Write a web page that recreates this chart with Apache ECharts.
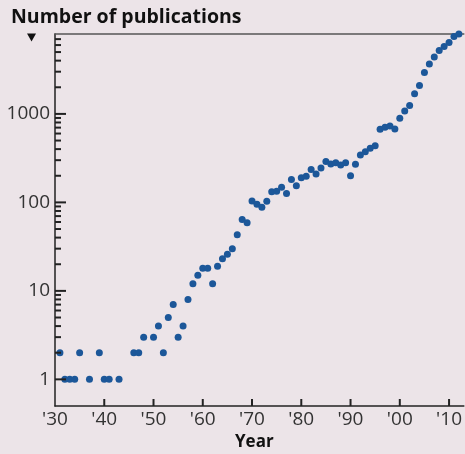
<!DOCTYPE html>
<html>
<head>
<meta charset="utf-8">
<script src="https://cdn.jsdelivr.net/npm/echarts@6/dist/echarts.min.js"></script>
<style>
  html, body { margin: 0; padding: 0; background: #ece4e8; }
  #chart { width: 465px; height: 454px; }
</style>
</head>
<body>
<div id="chart"></div>
<script>
// publication counts per year
const years = [
  1931, 1932, 1933, 1934, 1935, 1937, 1939, 1940, 1941, 1943,
  1946, 1947, 1948, 1950, 1951, 1952, 1953, 1954, 1955, 1956,
  1957, 1958, 1959, 1960, 1961, 1962, 1963, 1964, 1965, 1966,
  1967, 1968, 1969, 1970, 1971, 1972, 1973, 1974, 1975, 1976,
  1977, 1978, 1979, 1980, 1981, 1982, 1983, 1984, 1985, 1986,
  1987, 1988, 1989, 1990, 1991, 1992, 1993, 1994, 1995, 1996,
  1997, 1998, 1999, 2000, 2001, 2002, 2003, 2004, 2005, 2006,
  2007, 2008, 2009, 2010, 2011, 2012
]
const counts = [
  2, 1, 1, 1, 2, 1, 2, 1, 1, 1,
  2, 2, 3, 3, 4, 2, 5, 7, 3, 4,
  8, 12, 15, 18, 18, 12, 19, 23, 26, 30,
  43, 64, 59, 104, 95, 88, 103, 132, 134, 148,
  126, 182, 154, 190, 198, 235, 209, 245, 290, 271,
  281, 264, 281, 200, 269, 343, 374, 408, 437, 671,
  707, 731, 676, 894, 1082, 1242, 1686, 2093, 2940, 3660,
  4390, 5220, 5790, 6430, 7520, 8000
]

// ticks
const yearTicks = [1940, 1950, 1960, 1970, 1980, 1990, 2000, 2010]
const majorTicks = [1, 10, 100, 1000]
const minorTicks = [
  2, 3, 4, 5, 6, 7, 8, 9,
  20, 30, 40, 50, 60, 70, 80, 90,
  200, 300, 400, 500, 600, 700, 800, 900,
  2000, 3000, 4000, 5000, 6000, 7000
]

const X_MIN = 1930
const Y_MIN = 0.5
const FONT = "'Open Sans', sans-serif"
const INK = '#222'

const chart = echarts.init(document.getElementById('chart'))

// inward tick marks, placed through the axes' scales
const tickRenderer = (dx, dy) => (params, api) => {
  const p = api.coord([api.value(0), api.value(1)])
  return {
    type: 'line',
    z2: 10,
    shape: { x1: p[0], y1: p[1], x2: p[0] + dx, y2: p[1] + dy },
    style: { stroke: INK, lineWidth: 2 }
  }
}

const option = {
  backgroundColor: '#ece4e8',
  animation: false,
  grid: { left: 55, right: 1, top: 34, bottom: 48 },
  graphic: [
    {
      type: 'text',
      left: 11,
      top: 7,
      style: { text: 'Number of publications', font: 'bold 19.5px ' + FONT, fill: '#111' }
    },
    {
      type: 'polygon',
      shape: { points: [[27, 33.5], [36, 33.5], [31.5, 41.5]] },
      style: { fill: '#111' }
    },
    {
      type: 'text',
      left: 235,
      top: 434,
      style: { text: 'Year', font: 'bold 17px ' + FONT, fill: '#111' }
    }
  ],
  xAxis: [
    {
      type: 'value',
      min: X_MIN,
      max: 2013,
      interval: 10,
      splitLine: { show: false },
      axisLine: { show: true, lineStyle: { color: INK, width: 1.5 } },
      axisTick: { show: false },
      axisLabel: {
        margin: 4,
        color: '#333',
        fontFamily: FONT,
        fontSize: 19,
        showMaxLabel: false,
        formatter: v => (v % 10 === 0 ? "'" + String(v % 100).padStart(2, '0') : '')
      }
    },
    {
      type: 'value',
      position: 'top',
      min: X_MIN,
      max: 2013,
      splitLine: { show: false },
      axisLine: { show: true, lineStyle: { color: '#555', width: 1.5 } },
      axisTick: { show: false },
      axisLabel: { show: false }
    }
  ],
  yAxis: {
    type: 'log',
    min: Y_MIN,
    max: 8000,
    splitLine: { show: false },
    axisLine: { show: true, lineStyle: { color: INK, width: 1.5 } },
    axisTick: { show: false },
    axisLabel: {
      margin: 5,
      color: '#333',
      fontFamily: FONT,
      fontSize: 19,
      showMinLabel: false,
      showMaxLabel: false,
      formatter: v => (majorTicks.includes(v) ? String(v) : '')
    }
  },
  series: [
    {
      type: 'custom',
      z: 10,
      silent: true,
      renderItem: tickRenderer(0, -7),
      data: yearTicks.map(y => [y, Y_MIN])
    },
    {
      type: 'custom',
      z: 10,
      silent: true,
      renderItem: tickRenderer(11, 0),
      data: majorTicks.map(v => [X_MIN, v])
    },
    {
      type: 'custom',
      z: 10,
      silent: true,
      renderItem: tickRenderer(6, 0),
      data: minorTicks.map(v => [X_MIN, v])
    },
    {
      type: 'scatter',
      symbolSize: 7,
      itemStyle: { color: '#1c5799', opacity: 1 },
      data: years.map((y, i) => [y, counts[i]])
    }
  ]
}

chart.setOption(option)
</script>
</body>
</html>
